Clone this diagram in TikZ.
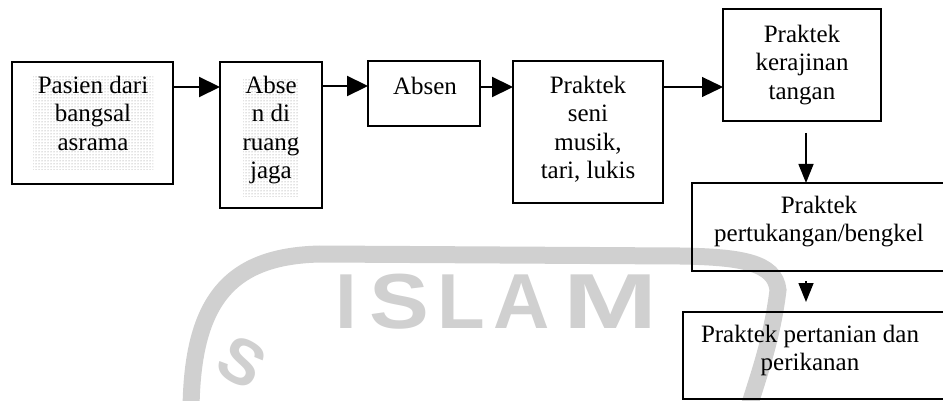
\documentclass[tikz,border=0pt]{standalone}
\usepackage{fontspec}
\setmainfont{Liberation Serif}
\newfontfamily\wmfont{Liberation Sans}
\usetikzlibrary{arrows.meta,patterns}
\definecolor{wm}{RGB}{208,208,208}
\begin{document}
\begin{tikzpicture}[x=1pt,y=-1pt,
  box/.style={draw=black, line width=1.6pt, inner sep=0pt, outer sep=0pt, rectangle},
  txt/.style={font=\fontsize{25}{28.4}\selectfont, align=center, inner sep=0pt, anchor=north},
  harr/.style={-{Triangle[length=21pt,width=20pt]}, line width=2.2pt},
  varr/.style={-{Triangle[length=19pt,width=15pt]}, line width=1.5pt},
  wmletter/.style={text=wm, font=\wmfont\bfseries\fontsize{78}{78}\selectfont, inner sep=0pt, anchor=base}]
\useasboundingbox (0,0) rectangle (943,401);

% faint logo in the background
\draw[wm, line width=17pt]
  (191,410) .. controls (192,300) and (230,256) .. (320,254)
  -- (680,256) .. controls (740,257) and (775,262) .. (778,290)
  .. controls (772,340) and (757,380) .. (748,410);
\node[wmletter] (wI) at (346,328) {I};
\node[wmletter] (wS) at (399,328) {\scalebox{1.15}[1]{S}};
\node[wmletter] (wL) at (461,328) {L};
\node[wmletter] (wA) at (522,328) {A};
\node[wmletter] (wM) at (611,328) {\scalebox{1.45}[1]{M}};
\node[text=wm, font=\wmfont\bfseries\fontsize{64}{64}\selectfont, inner sep=0pt,
      rotate=-30] (wS2) at (242,362) {S};

% stippled shading behind the first two labels
\fill[pattern=dots, pattern color=gray] (33,75) rectangle (153,170);
\fill[pattern=dots, pattern color=gray] (243,80) rectangle (298,197);

% boxes
\node[box, line width=2.2pt, minimum width=161pt, minimum height=122pt] (b1) at (92.5,123) {};
\node[box, line width=2pt, minimum width=102pt, minimum height=146pt] (b2) at (271,135) {};
\node[box, line width=2pt, minimum width=112pt, minimum height=65pt] (b3) at (424,93.5) {};
\node[box, line width=2pt, minimum width=150pt, minimum height=142pt] (b4) at (588,132) {};
\node[box, line width=1.5pt, minimum width=158pt, minimum height=112pt] (b5) at (802,65) {};
\node[box, line width=1.5pt, minimum width=258pt, minimum height=88pt] (b6) at (821,227) {};
\node[box, line width=1.3pt, minimum width=267pt, minimum height=87pt] (b7) at (816.5,355.5) {};

% labels
\node[txt] (t1) at (93,76) {Pasien dari\\bangsal\\asrama};
\node[txt] (t2) at (271,76) {Abse\\n di\\ruang\\jaga};
\node[txt] (t3) at (425,77) {Absen};
\node[txt] (t4) at (588,76) {Praktek\\seni\\musik,\\tari, lukis};
\node[txt] (t5) at (802,25) {Praktek\\kerajinan\\tangan};
\node[txt] (t6) at (819,196) {Praktek\\pertukangan/bengkel};
\node[txt] (t7) at (810,325) {Praktek pertanian dan\\perikanan};

% connectors
\draw[harr] ([yshift=-25pt]b1.north east) -- ([yshift=-25pt]b2.north west);
\draw[harr] ([yshift=-24pt]b2.north east) -- ([yshift=-25pt]b3.north west);
\draw[harr] ([yshift=-26pt]b3.north east) -- ([yshift=-26pt]b4.north west);
\draw[harr, line width=1.2pt] ([yshift=-26pt]b4.north east) -- ([yshift=-78pt]b5.north west);
\coordinate (c5) at ([xshift=4pt,yshift=-12pt]b5.south);
\draw[varr] (c5) -- (c5 |- b6.north);
\coordinate (c6) at ([yshift=-10pt]b6.south -| c5);
\coordinate (e6) at (c6 |- b7.north);
\draw[varr] (c6) -- ([yshift=10pt]e6);
\end{tikzpicture}
\end{document}
